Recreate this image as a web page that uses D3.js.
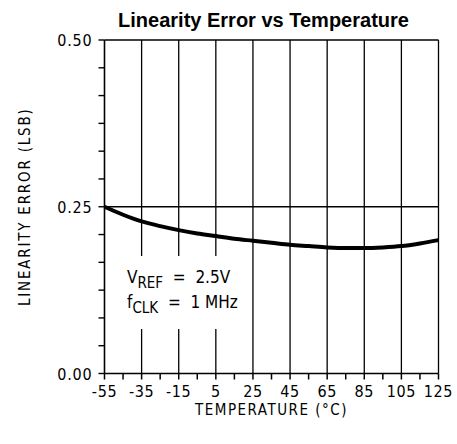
<!DOCTYPE html>
<html><head><meta charset="utf-8">
<script src="https://cdn.jsdelivr.net/npm/d3@7"></script>
<style>body{margin:0;background:#fff}svg{display:block}</style>
</head><body>
<svg id="c" width="457" height="444"></svg>
<script>
const temps = [-55,-45,-35,-25,-15,-5,5,15,25,35,45,55,65,75,85,95,105,115,125];
const errLSB = [0.250,0.238,0.228,0.221,0.215,0.210,0.206,0.202,0.199,0.196,0.193,0.191,0.189,0.188,0.188,0.189,0.191,0.195,0.200];
const xTicks = [-55,-35,-15,5,25,45,65,85,105,125];
const yTicks = [0.00,0.25,0.50];
const title = "Linearity Error vs Temperature";
const xTitle = "TEMPERATURE (°C)";
const yTitle = "LINEARITY ERROR (LSB)";

const svg = d3.select("#c");
const L=104.5, R=438.5, T=40, B=373.5;
const x = d3.scaleLinear().domain([-55,125]).range([L,R]);
const y = d3.scaleLinear().domain([0,0.5]).range([B,T]);
const font = "'DejaVu Sans Condensed', 'DejaVu Sans', sans-serif";

svg.append("text").attr("x",(L+R)/2 - 8).attr("y",27).attr("text-anchor","middle")
  .attr("font-family","Arial, 'Liberation Sans', sans-serif").attr("font-weight","bold")
  .attr("font-size",20).text(title);

// mask for annotation gap
const defs = svg.append("defs");
const m = defs.append("mask").attr("id","gap").attr("maskUnits","userSpaceOnUse")
  .attr("x",0).attr("y",0).attr("width",457).attr("height",444);
m.append("rect").attr("x",0).attr("y",0).attr("width",457).attr("height",444).attr("fill","#fff");
m.append("rect").attr("x",L+2).attr("y",256).attr("width",140).attr("height",73).attr("fill","#000");

const g = svg.append("g");
g.selectAll("line.v").data(xTicks.slice(1)).join("line")
  .attr("x1",d=>x(d)).attr("x2",d=>x(d)).attr("y1",T).attr("y2",B)
  .attr("stroke","#000").attr("stroke-width",1.3).attr("mask","url(#gap)");
g.selectAll("line.h").data(yTicks.slice(1)).join("line")
  .attr("x1",L).attr("x2",R).attr("y1",d=>y(d)).attr("y2",d=>y(d))
  .attr("stroke","#000").attr("stroke-width",1.3);

// minor ticks
const xMinor = d3.range(0,19).map(i=>-55+i*10);
const yMinor = d3.range(0,13).map(i=>i*0.5/12);
svg.append("g").selectAll("line").data(xMinor).join("line")
  .attr("x1",d=>x(d)).attr("x2",d=>x(d)).attr("y1",B).attr("y2",B+6)
  .attr("stroke","#000").attr("stroke-width",1.5);
svg.append("g").selectAll("line").data(yMinor).join("line")
  .attr("x1",L-6).attr("x2",L).attr("y1",d=>y(d)).attr("y2",d=>y(d))
  .attr("stroke","#000").attr("stroke-width",1.4);
// axis lines
svg.append("line").attr("x1",L).attr("x2",R).attr("y1",B).attr("y2",B).attr("stroke","#000").attr("stroke-width",1.6);
svg.append("line").attr("x1",L).attr("x2",L).attr("y1",T).attr("y2",B).attr("stroke","#000").attr("stroke-width",1.6);

svg.append("g").selectAll("text").data(xTicks).join("text")
  .attr("x",d=>x(d)).attr("y",B+23).attr("text-anchor","middle")
  .attr("font-family",font).attr("font-size",16).attr("letter-spacing",0.6).text(d=>d);
svg.append("g").selectAll("text").data(yTicks).join("text")
  .attr("x",L-12).attr("y",d=>y(d)+6).attr("text-anchor","end")
  .attr("font-family",font).attr("font-size",16).attr("letter-spacing",0.8).text(d=>d.toFixed(2));

svg.append("text").attr("x",(L+R)/2).attr("y",415).attr("text-anchor","middle")
  .attr("font-family",font).attr("font-size",15).attr("letter-spacing",1.5).text(xTitle);
svg.append("text").attr("transform",`translate(30,${(T+B)/2}) rotate(-90)`).attr("text-anchor","middle")
  .attr("font-family",font).attr("font-size",15).attr("letter-spacing",1.8).text(yTitle);

// curve
const line = d3.line().x(d=>x(d[0])).y(d=>y(d[1])).curve(d3.curveMonotoneX);
svg.append("path").datum(temps.map((t,i)=>[t,errLSB[i]])).attr("d",line)
  .attr("fill","none").attr("stroke","#000").attr("stroke-width",4);

// annotation
const ann = svg.append("g").attr("font-family",font).attr("font-size",17);
const t1 = ann.append("text").attr("x",127).attr("y",283).attr("xml:space","preserve");
t1.append("tspan").text("V");
t1.append("tspan").attr("dy",5).attr("font-size",15).text("REF");
t1.append("tspan").attr("dy",-5).text("  =  2.5V");
const t2 = ann.append("text").attr("x",127).attr("y",308).attr("xml:space","preserve");
t2.append("tspan").text("f");
t2.append("tspan").attr("dy",5).attr("font-size",15).text("CLK");
t2.append("tspan").attr("dy",-5).text("  =  1 MHz");
</script>
</body></html>
